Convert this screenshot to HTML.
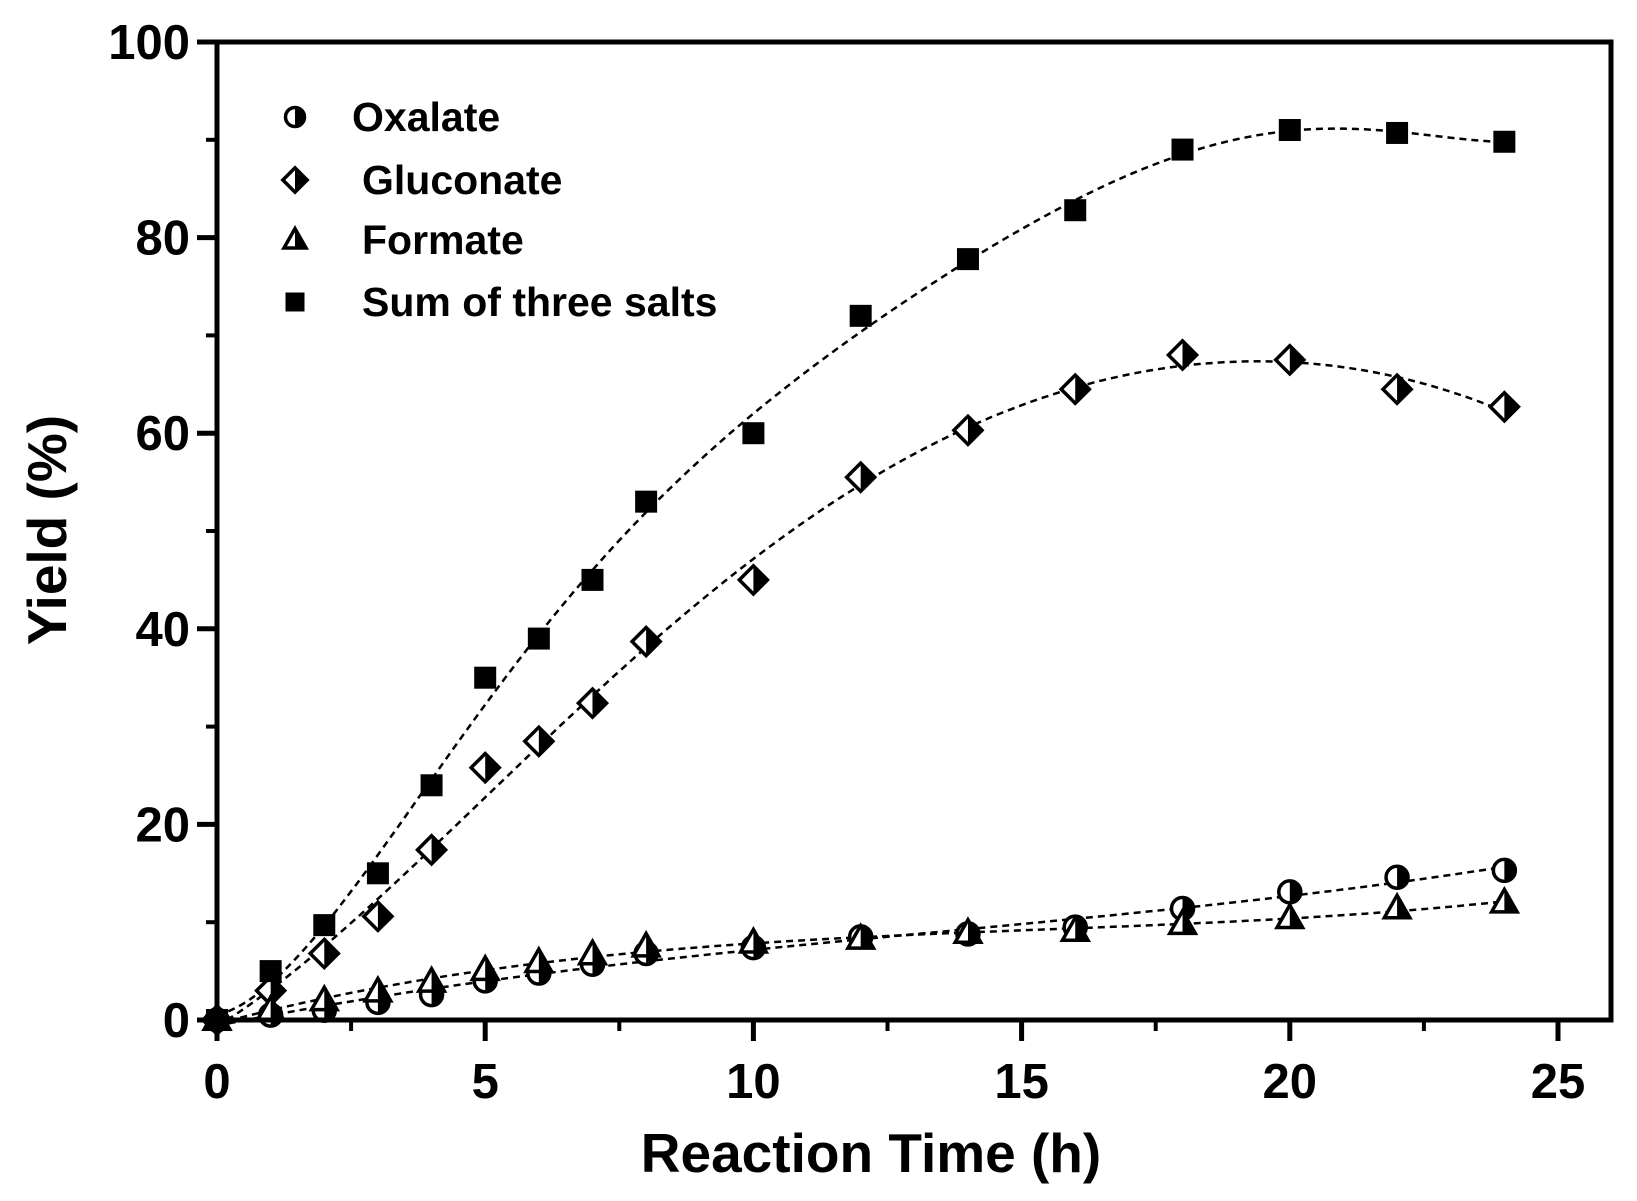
<!DOCTYPE html>
<html><head><meta charset="utf-8"><style>
html,body{margin:0;padding:0;background:#fff}
svg{display:block}
text{font-family:"Liberation Sans",Arial,sans-serif;font-weight:bold;fill:#000}
</style></head><body>
<svg id="chart" width="1637" height="1201" viewBox="0 0 1637 1201" xmlns="http://www.w3.org/2000/svg">
<defs>
<clipPath id="rh"><rect x="0" y="-50" width="50" height="100"/></clipPath>
</defs>
<g id="curves"></g>
<g id="marks"></g>
<g id="axes"></g>
<g id="legend"></g>
</svg>
<script>
const times=[0,1,2,3,4,5,6,7,8,10,12,14,16,18,20,22,24];
const oxalate=[0,0.5,1,1.8,2.6,4,4.8,5.7,6.8,7.4,8.5,8.8,9.5,11.4,13.1,14.6,15.3];
const gluconate=[0,3,6.8,10.6,17.4,25.8,28.5,32.4,38.7,45,55.5,60.3,64.5,68,67.5,64.5,62.7];
const formate=[0,1,2,2.9,3.9,5.1,5.9,6.7,7.5,7.9,8.3,8.9,9.1,9.8,10.4,11.4,12];
const sumSalts=[0,5,9.7,15,24,35,39,45,53,60,72,77.8,82.8,89,91,90.7,89.8];
const xTicks=[0,5,10,15,20,25];
const yTicks=[0,20,40,60,80,100];
const NS='http://www.w3.org/2000/svg';
const L=217,R=1611,T=42,B=1020;
const X=v=>L+v*(1341/25);
const Y=v=>B-v*(978/100);
function mk(tag,at,parent){const e=document.createElementNS(NS,tag);for(const k in at)e.setAttribute(k,at[k]);parent.appendChild(e);return e;}
const axes=document.getElementById('axes'),curves=document.getElementById('curves'),marks=document.getElementById('marks'),leg=document.getElementById('legend');
const fr=mk('rect',{x:L,y:T,width:R-L,height:B-T,fill:'none',stroke:'#000','stroke-width':5},axes);


for(const t of xTicks){
 const l=mk('line',{x1:X(t),x2:X(t),y1:B,y2:B+21,stroke:'#000','stroke-width':5},axes);
 
 
 const tx=mk('text',{x:X(t),y:1098,'text-anchor':'middle','font-size':49},axes);tx.textContent=t;
 
 
 if(t<25){const m=mk('line',{x1:X(t+2.5),x2:X(t+2.5),y1:B,y2:B+11,stroke:'#000','stroke-width':4},axes);
 
 }
}
for(const t of yTicks){
 const l=mk('line',{x1:L-20,x2:L,y1:Y(t),y2:Y(t),stroke:'#000','stroke-width':5},axes);
 
 
 const tx=mk('text',{x:190,y:Y(t)+17,'text-anchor':'end','font-size':49},axes);tx.textContent=t;
 
 
 if(t<100){const m=mk('line',{x1:L-11,x2:L,y1:Y(t+10),y2:Y(t+10),stroke:'#000','stroke-width':4},axes);
 
 }
}
const xt=mk('text',{x:871,y:1172,'text-anchor':'middle','font-size':55},axes);xt.textContent='Reaction Time (h)';


const yt=mk('text',{x:0,y:0,'text-anchor':'middle','font-size':55,transform:'translate(66,530) rotate(-90)'},axes);yt.textContent='Yield (%)';


function polyfit(xs,ys,deg){
 const n=deg+1,A=[];for(let i=0;i<n;i++){A.push(new Array(n+1).fill(0));}
 xs.forEach((x0,k)=>{const x=x0/24;for(let i=0;i<n;i++){for(let j=0;j<n;j++)A[i][j]+=Math.pow(x,i+j);A[i][n]+=ys[k]*Math.pow(x,i);}});
 for(let i=0;i<n;i++){let p=i;for(let r=i+1;r<n;r++)if(Math.abs(A[r][i])>Math.abs(A[p][i]))p=r;[A[i],A[p]]=[A[p],A[i]];
  for(let r=0;r<n;r++){if(r===i)continue;const f=A[r][i]/A[i][i];for(let c=i;c<=n;c++)A[r][c]-=f*A[i][c];}}
 const c=A.map((row,i)=>row[n]/row[i]);
 return x=>c.reduce((s,ci,i)=>s+ci*Math.pow(x/24,i),0);}
function path(vals,deg){
 const f=polyfit(times,vals,deg);let d='';
 for(let t=0;t<=24.001;t+=0.2){d+=(d?' L':'M')+X(t).toFixed(1)+','+Y(f(t)).toFixed(1);}
 return d;}
function marker(type,x,y,s,parent){
 const g=mk('g',{transform:`translate(${x},${y})`},parent);
 let shape;
 if(type==='square'){mk('rect',{x:-s/2,y:-s/2,width:s,height:s,fill:'#000'},g);return g;}
 if(type==='circle')shape=['circle',{cx:0,cy:0,r:s/2}];
 if(type==='diamond')shape=['polygon',{points:`0,${-s*0.64} ${s*0.64},0 0,${s*0.64} ${-s*0.64},0`}];
 if(type==='triangle')shape=['polygon',{points:`0,${-s*0.6} ${s*0.58},${s*0.42} ${-s*0.58},${s*0.42}`}];
 mk(shape[0],Object.assign({fill:'#fff'},shape[1]),g);
 mk(shape[0],Object.assign({fill:'#000','clip-path':'url(#rh)'},shape[1]),g);
 mk(shape[0],Object.assign({fill:'none',stroke:'#000','stroke-width':3.5},shape[1]),g);
 return g;}
const series=[['oxalate',oxalate,'circle',3],['gluconate',gluconate,'diamond',5],['formate',formate,'triangle',3],['sum',sumSalts,'square',6]];
for(const [nm,vals,type,deg] of series){
 const c=mk('path',{d:path(vals,deg),fill:'none',stroke:'#000','stroke-width':2.5,'stroke-dasharray':'7,5'},curves);
 
 
 times.forEach((t,i)=>{const m=marker(type,X(t),Y(vals[i]),22,marks);
  
  });
}
const legItems=[['circle','Oxalate',117,352],['diamond','Gluconate',180,362],['triangle','Formate',240,362],['square','Sum of three salts',302,362]];
for(const [type,label,y,tx] of legItems){
 const m=marker(type,295,y,19,leg);
 
 
 const t=mk('text',{x:tx,y:y+14,'font-size':41},leg);t.textContent=label;
 
 
}
</script>
</body></html>
